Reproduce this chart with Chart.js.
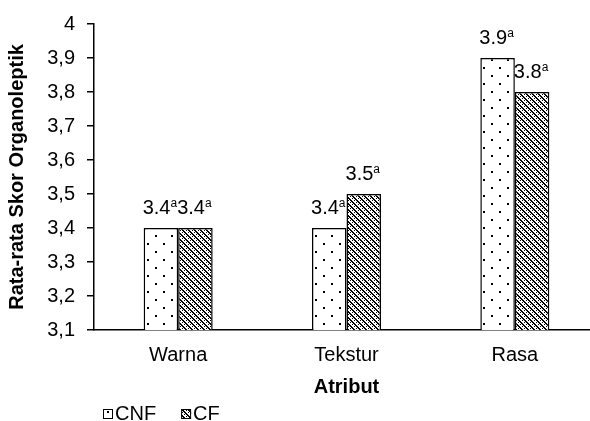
<!DOCTYPE html>
<html>
<head>
<meta charset="utf-8">
<script src="https://cdn.jsdelivr.net/npm/chart.js@4/dist/chart.umd.min.js"></script>
<style>
  html, body { margin: 0; padding: 0; background: #fff; overflow: hidden; }
  #wrap { position: relative; width: 600px; height: 421px; }
</style>
</head>
<body>
<div id="wrap"><canvas id="chart"></canvas></div>
<script>
// data
const CATEGORIES = ['Warna', 'Tekstur', 'Rasa'];
const SERIES_NAMES = ['CNF', 'CF'];
const CNF_VALUES = [3.4, 3.4, 3.9];
const CF_VALUES = [3.4, 3.5, 3.8];
const CNF_LETTERS = ['a', 'a', 'a'];
const CF_LETTERS = ['a', 'a', 'a'];
const Y_MIN = 3.1, Y_MAX = 4, Y_STEP = 0.1;

const FONT = '"Liberation Sans", Arial, sans-serif';
const LETTERS = [CNF_LETTERS, CF_LETTERS];

// sparse dots (CNF)
function dotPattern() {
  const t = document.createElement('canvas');
  t.width = 16; t.height = 16;
  const c = t.getContext('2d');
  c.fillStyle = '#fff'; c.fillRect(0, 0, 16, 16);
  c.fillStyle = '#000';
  c.fillRect(3, 3, 2, 2);
  c.fillRect(11, 11, 2, 2);
  return c.createPattern(t, 'repeat');
}

// dense downward diagonal (CF)
function hatchPattern() {
  const t = document.createElement('canvas');
  t.width = 6; t.height = 6;
  const c = t.getContext('2d');
  c.fillStyle = '#fff'; c.fillRect(0, 0, 6, 6);
  c.fillStyle = '#000';
  for (let i = 0; i < 6; i++) {
    c.fillRect(i, i, 1, 1);
    c.fillRect((i + 1) % 6, i, 1, 1);
    if (i % 2 === 0) c.fillRect((i + 4) % 6, i, 1, 1);
  }
  return c.createPattern(t, 'repeat');
}

const valueLabels = {
  id: 'valueLabels',
  afterDatasetsDraw(chart) {
    const ctx = chart.ctx;
    ctx.save();
    ctx.fillStyle = '#000';
    ctx.textBaseline = 'middle';
    ctx.textAlign = 'left';
    chart.data.datasets.forEach((ds, di) => {
      chart.getDatasetMeta(di).data.forEach((bar, i) => {
        const main = ds.data[i].toFixed(1);
        const sup = LETTERS[di][i];
        ctx.font = '20px ' + FONT;
        const w1 = ctx.measureText(main).width;
        ctx.font = '12px ' + FONT;
        const w2 = ctx.measureText(sup).width;
        const x0 = bar.x - (w1 + w2) / 2 - 1;
        const y = bar.y - 20;
        ctx.font = '20px ' + FONT;
        ctx.fillText(main, x0, y);
        ctx.font = '12px ' + FONT;
        ctx.fillText(sup, x0 + w1, y - 4);
      });
    });
    ctx.restore();
  }
};

const bottomLegend = {
  id: 'bottomLegend',
  afterDraw(chart) {
    const ctx = chart.ctx;
    ctx.save();
    ctx.font = '20px ' + FONT;
    ctx.textBaseline = 'middle';
    let x = chart.chartArea.left + 9;
    const y = 414;
    chart.data.datasets.forEach(ds => {
      ctx.fillStyle = ds.backgroundColor;
      ctx.fillRect(x, y - 5, 10, 10);
      ctx.strokeStyle = '#000';
      ctx.lineWidth = 1;
      ctx.strokeRect(x + 0.5, y - 4.5, 9, 9);
      ctx.fillStyle = '#000';
      ctx.fillText(ds.label, x + 12, y);
      x += 12 + ctx.measureText(ds.label).width + 25;
    });
    ctx.restore();
  }
};

new Chart(document.getElementById('chart'), {
  type: 'bar',
  data: {
    labels: CATEGORIES,
    datasets: [
      { label: SERIES_NAMES[0], data: CNF_VALUES, backgroundColor: dotPattern() },
      { label: SERIES_NAMES[1], data: CF_VALUES, backgroundColor: hatchPattern() }
    ]
  },
  options: {
    responsive: true,
    maintainAspectRatio: false,
    animation: false,
    layout: { padding: { top: 21, right: 1, left: 0, bottom: 0 } },
    datasets: {
      bar: {
        categoryPercentage: 0.41,
        barPercentage: 1,
        borderColor: '#000',
        borderWidth: 1.5,
        borderSkipped: false
      }
    },
    plugins: {
      legend: { display: false },
      tooltip: { enabled: false }
    },
    scales: {
      x: {
        grid: { display: false, drawTicks: false },
        border: { display: true, color: '#000', width: 1.5 },
        ticks: { color: '#000', padding: 13, font: { family: FONT, size: 20 } },
        title: {
          display: true, text: 'Atribut', color: '#000',
          padding: { top: 0, bottom: 22 },
          font: { family: FONT, size: 20, weight: 'bold' }
        },
        afterFit(scale) { scale.height = 91; }
      },
      y: {
        min: Y_MIN,
        max: Y_MAX,
        grid: { drawOnChartArea: false, drawTicks: true, tickLength: 7, color: '#000', lineWidth: 1.5 },
        border: { display: true, color: '#000', width: 1.5 },
        ticks: {
          stepSize: Y_STEP,
          color: '#000',
          padding: 12,
          font: { family: FONT, size: 20 },
          callback: v => String(Math.round(v * 10) / 10).replace('.', ',')
        },
        title: {
          display: true, text: 'Rata-rata Skor Organoleptik', color: '#000',
          padding: { top: 5, bottom: 0 },
          font: { family: FONT, size: 20, weight: 'bold' }
        },
        afterFit(scale) { scale.width = 94; }
      }
    }
  },
  plugins: [valueLabels, bottomLegend]
});
</script>
</body>
</html>
